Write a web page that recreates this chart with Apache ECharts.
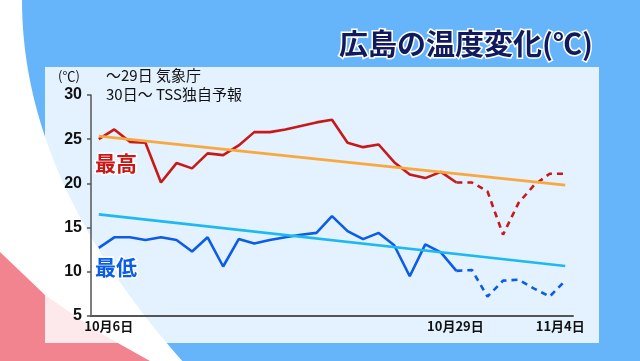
<!DOCTYPE html>
<html><head><meta charset="utf-8">
<script src="https://cdn.jsdelivr.net/npm/echarts@6/dist/echarts.min.js"></script>
<style>html,body{margin:0;padding:0;background:#fff;overflow:hidden}#c{width:640px;height:361px}</style>
</head><body><div id="c"></div><script>
// ---- data ----
const categories = ['10/6','10/7','10/8','10/9','10/10','10/11','10/12','10/13','10/14','10/15','10/16','10/17','10/18','10/19','10/20','10/21','10/22','10/23','10/24','10/25','10/26','10/27','10/28','10/29','10/30','10/31','11/1','11/2','11/3','11/4','11/5'];
const highObserved = [25.0,26.1,24.7,24.6,20.1,22.3,21.7,23.4,23.2,24.3,25.8,25.8,26.1,26.5,26.9,27.2,24.6,24.1,24.4,22.4,21.0,20.6,21.3,20.1];
const highForecast = [20.1,20.1,19.1,14.2,17.8,19.8,21.1,21.1];
const lowObserved = [12.7,13.9,13.9,13.6,13.9,13.6,12.3,13.9,10.6,13.7,13.2,13.6,13.9,14.2,14.4,16.3,14.6,13.7,14.4,13.0,9.5,13.1,12.2,10.1];
const lowForecast = [10.1,10.2,7.2,9.0,9.1,8.1,7.2,9.0];
const highTrend = [25.35, 19.8];
const lowTrend = [16.5, 10.65];
const yMin = 5, yMax = 30, yStep = 5;
const xTickLabels = {0: '10月6日', 23: '10月29日', 30: '11月4日'};

// ---- build series data ----
const N = categories.length;
const forecastStart = highObserved.length - 1;
function padObs(arr){ const d = arr.slice(); while (d.length < N) d.push(null); return d; }
function padFc(arr){ const d = new Array(forecastStart).fill(null); return d.concat(arr); }
function trend(ends){ const d = new Array(N).fill(null); d[0] = ends[0]; d[N-1] = ends[1]; return d; }

const RED = '#c81818', BLUE = '#0b5ce6', ORANGE = '#f8a83f', CYAN = '#1cb9f2';
const JP = '"Noto Sans CJK JP", "Noto Sans", sans-serif';
const NUM = '"Liberation Sans", Arial, sans-serif';

// decorative background curve
const curvePts = [];
for (let y = 0; y <= 361; y += 8) curvePts.push([22 + 0.00123 * y * y, y]);
curvePts.push([22 + 0.00123 * 361 * 361, 361]);
curvePts.push([640, 361]); curvePts.push([640, 0]);

const chart = echarts.init(document.getElementById('c'), null, {renderer: 'canvas'});
chart.setOption({
  animation: false,
  backgroundColor: '#ffffff',
  graphic: [
    {type: 'polygon', z: -30, silent: true, shape: {points: curvePts}, style: {fill: '#66b4f9'}},
    {type: 'polygon', z: -29, silent: true, shape: {points: [[0,252],[45,295],[100,333],[150,361],[0,361]]}, style: {fill: '#f2848f'}},
    {type: 'rect', z: -28, silent: true, shape: {x: 45, y: 67, width: 554, height: 276}, style: {fill: 'rgba(255,255,255,0.82)'}}
  ],
  title: [
    {text: '広島の温度変化(℃)', right: 44, top: 28, padding: 0,
     textStyle: {fontFamily: JP, fontSize: 29, fontWeight: 'bold', color: '#111a5c', textBorderColor: '#ffffff', textBorderWidth: 3, lineHeight: 32}},
    {text: '(℃)', left: 58, top: 69, padding: 0,
     textStyle: {fontFamily: JP, fontSize: 13, fontWeight: 'normal', color: '#111', lineHeight: 14}},
    {text: '～29日 気象庁', left: 106, top: 67, padding: 0,
     textStyle: {fontFamily: JP, fontSize: 15, fontWeight: 'normal', color: '#111', lineHeight: 17}},
    {text: '30日～ TSS独自予報', left: 106, top: 86, padding: 0,
     textStyle: {fontFamily: JP, fontSize: 15, fontWeight: 'normal', color: '#111', lineHeight: 17}},
    {text: '最高', left: 95, top: 151, padding: 0,
     textStyle: {fontFamily: JP, fontSize: 21, fontWeight: 'bold', color: RED, textBorderColor: '#fff', textBorderWidth: 3, lineHeight: 24}},
    {text: '最低', left: 95, top: 255, padding: 0,
     textStyle: {fontFamily: JP, fontSize: 21, fontWeight: 'bold', color: BLUE, textBorderColor: '#fff', textBorderWidth: 3, lineHeight: 24}}
  ],
  grid: {left: 91, top: 95, width: 482, height: 221, containLabel: false},
  xAxis: {
    type: 'category', data: categories, boundaryGap: true,
    axisLine: {show: true, lineStyle: {color: '#555', width: 2}},
    axisTick: {show: false},
    splitLine: {show: false},
    axisLabel: {
      interval: 0, margin: 4, color: '#111', fontFamily: JP, fontSize: 13, fontWeight: 'bold',
      formatter: function (v, i) { const t = xTickLabels[i]; return t ? '{l' + i + '|' + t + '}' : ''; },
      rich: {
        l0: {padding: [0, 0, 0, 20], fontFamily: JP, fontSize: 13, fontWeight: 'bold', color: '#111'},
        l23: {padding: [0, 2, 0, 0], fontFamily: JP, fontSize: 13, fontWeight: 'bold', color: '#111'},
        l30: {padding: [0, 10, 0, 0], fontFamily: JP, fontSize: 13, fontWeight: 'bold', color: '#111'}
      }
    }
  },
  yAxis: {
    type: 'value', min: yMin, max: yMax, interval: yStep,
    axisLine: {show: true, lineStyle: {color: '#555', width: 1.5}},
    axisTick: {show: true, length: 4, lineStyle: {color: '#555', width: 1.5}},
    splitLine: {show: false},
    axisLabel: {margin: 9, color: '#111', fontFamily: NUM, fontSize: 16, fontWeight: 'bold'}
  },
  series: [
    {name: 'high', type: 'line', data: padObs(highObserved), symbol: 'none', z: 3,
     lineStyle: {color: RED, width: 2.6}},
    {name: 'highF', type: 'line', data: padFc(highForecast), symbol: 'none', z: 3,
     lineStyle: {color: RED, width: 2.6, type: [6, 5]}},
    {name: 'low', type: 'line', data: padObs(lowObserved), symbol: 'none', z: 3,
     lineStyle: {color: BLUE, width: 2.6}},
    {name: 'lowF', type: 'line', data: padFc(lowForecast), symbol: 'none', z: 3,
     lineStyle: {color: BLUE, width: 2.6, type: [6, 5]}},
    {name: 'highTrend', type: 'line', data: trend(highTrend), connectNulls: true, symbol: 'none', z: 4,
     lineStyle: {color: ORANGE, width: 2.8}},
    {name: 'lowTrend', type: 'line', data: trend(lowTrend), connectNulls: true, symbol: 'none', z: 4,
     lineStyle: {color: CYAN, width: 2.6}}
  ]
});
</script></body></html>
